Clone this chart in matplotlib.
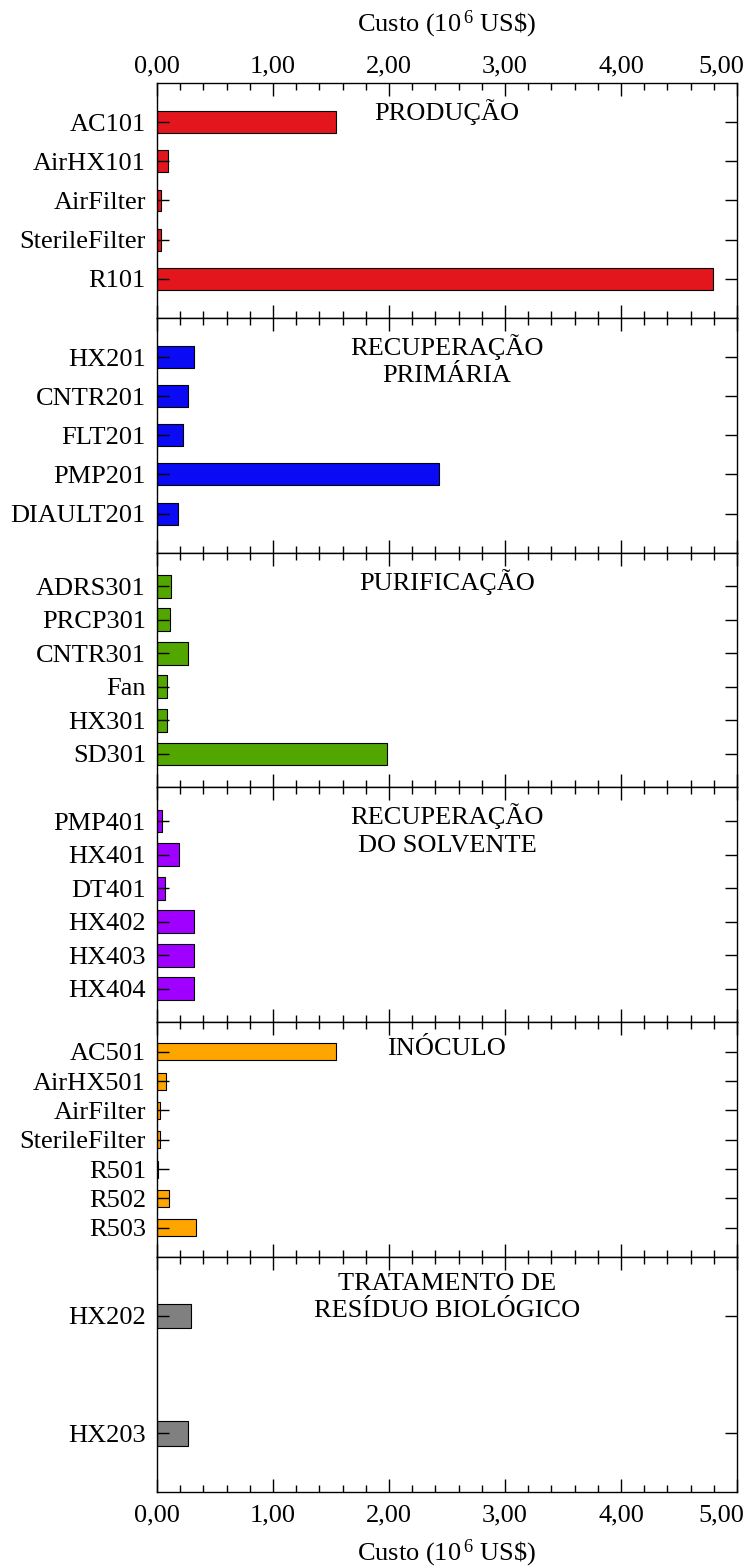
import matplotlib
matplotlib.use("Agg")
import matplotlib.pyplot as plt
from matplotlib.ticker import MultipleLocator, FuncFormatter
from matplotlib.transforms import ScaledTranslation

plt.rcParams["font.family"] = ["Liberation Serif", "DejaVu Serif"]
plt.rcParams["mathtext.fontset"] = "custom"
plt.rcParams["mathtext.rm"] = "Liberation Serif"
plt.rcParams["mathtext.default"] = "regular"

# ── Data (custo em 10^6 US$) ───────────────────────────────────────────────
prod_labels = ["AC101", "AirHX101", "AirFilter", "SterileFilter", "R101"]
prod_values = [1.54, 0.095, 0.033, 0.033, 4.79]

rec1_labels = ["HX201", "CNTR201", "FLT201", "PMP201", "DIAULT201"]
rec1_values = [0.32, 0.27, 0.22, 2.43, 0.18]

pur_labels = ["ADRS301", "PRCP301", "CNTR301", "Fan", "HX301", "SD301"]
pur_values = [0.12, 0.11, 0.27, 0.085, 0.09, 1.98]

solv_labels = ["PMP401", "HX401", "DT401", "HX402", "HX403", "HX404"]
solv_values = [0.04, 0.19, 0.065, 0.32, 0.32, 0.32]

inoc_labels = ["AC501", "AirHX501", "AirFilter", "SterileFilter", "R501", "R502", "R503"]
inoc_values = [1.54, 0.08, 0.03, 0.03, 0.012, 0.10, 0.34]

bio_labels = ["HX202", "HX203"]
bio_values = [0.29, 0.27]

panels = [
    ("PRODUÇÃO", prod_labels, prod_values, "#e3161e", 0.56),
    ("RECUPERAÇÃO\nPRIMÁRIA", rec1_labels, rec1_values, "#0a0af5", 0.56),
    ("PURIFICAÇÃO", pur_labels, pur_values, "#52a600", 0.68),
    ("RECUPERAÇÃO\nDO SOLVENTE", solv_labels, solv_values, "#a000ff", 0.68),
    ("INÓCULO", inoc_labels, inoc_values, "#ffa500", 0.58),
    ("TRATAMENTO DE\nRESÍDUO BIOLÓGICO", bio_labels, bio_values, "#808080", 0.21),
]

FS = 19
xlabel = "Custo (10$^{\\,6}$ US\\$)"
comma = FuncFormatter(lambda v, _: f"{v:.2f}".replace(".", ","))

fig, axes = plt.subplots(6, 1, figsize=(7.53, 15.67), dpi=100, sharex=True,
                         gridspec_kw=dict(hspace=0))
fig.subplots_adjust(left=0.2085, right=0.9788, top=0.947, bottom=0.0479)

for ax, (title, labels, values, color, h) in zip(axes, panels):
    n = len(labels)
    ypos = list(range(n, 0, -1))
    ax.barh(ypos, values, height=h, color=color, edgecolor="black", linewidth=0.8)
    if n == 2:
        ax.set_ylim(0.5, 2.5)
    else:
        ax.set_ylim(0, n + 1)
    ax.set_yticks(ypos)
    ax.set_yticklabels(labels, fontsize=FS)
    ax.set_xlim(0, 5)
    ax.xaxis.set_major_locator(MultipleLocator(1))
    ax.xaxis.set_minor_locator(MultipleLocator(0.2))
    ax.xaxis.set_major_formatter(comma)
    ax.tick_params(axis="x", which="both", direction="in", top=True, bottom=True,
                   labelbottom=False, labeltop=False, width=1.0)
    ax.tick_params(axis="x", which="major", length=9.4, pad=4, labelsize=FS)
    ax.tick_params(axis="x", which="minor", length=5)
    ax.tick_params(axis="y", which="major", direction="in", left=True, right=True,
                   length=8.5, width=1.0, pad=8)
    for sp in ax.spines.values():
        sp.set_linewidth(1.0)
    ax.text(0.5, 1 - 16 / 235, title, transform=ax.transAxes, ha="center",
            va="top", fontsize=FS, linespacing=1.3)

axes[0].tick_params(axis="x", labeltop=True)
axes[0].xaxis.set_label_position("top")
axes[0].set_xlabel(xlabel, fontsize=FS, labelpad=17)
axes[-1].tick_params(axis="x", labelbottom=True, pad=9)
axes[-1].set_xlabel(xlabel, fontsize=FS, labelpad=8)

# keep the last "5,00" label inside the figure edge
shift = ScaledTranslation(-11 / 72, 0, fig.dpi_scale_trans)
for ax in (axes[0], axes[-1]):
    fig.canvas.draw()
    for lbl in ax.get_xticklabels():
        if lbl.get_text() == "5,00":
            lbl.set_transform(lbl.get_transform() + shift)

fig.savefig("out.png", dpi=100)
